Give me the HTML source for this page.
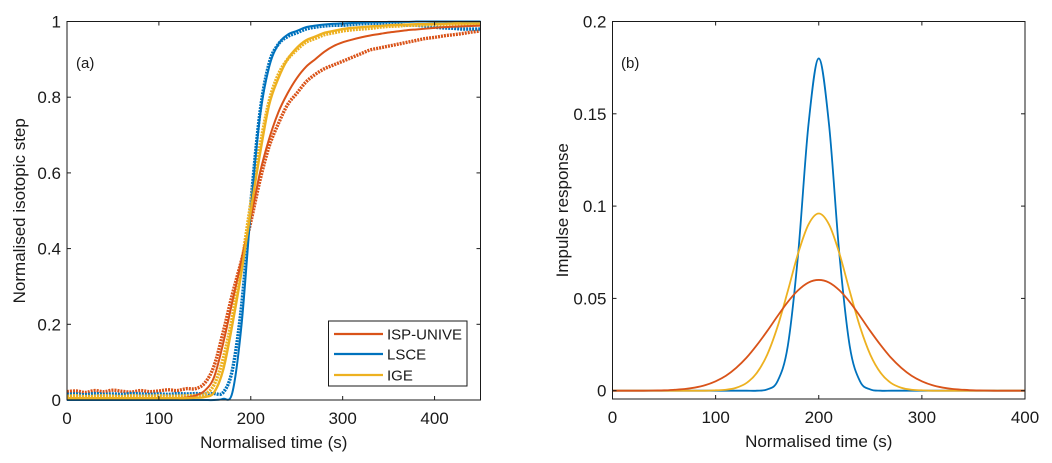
<!DOCTYPE html>
<html><head><meta charset="utf-8"><style>
html,body{margin:0;padding:0;background:#fff;}
svg{display:block;font-family:"Liberation Sans",Arial,sans-serif;}
</style></head><body>
<svg id="fig" width="1052" height="463" viewBox="0 0 1052 463">
<g id="pa"></g>
<g id="pb"></g>
</svg>
<script>
// Panel (a) data: step responses sampled every 10 s from 0 to 450
const aTimes = [0,10,20,30,40,50,60,70,80,90,100,110,120,130,140,150,160,170,180,190,200,210,220,230,240,250,260,270,280,290,300,310,320,330,340,350,360,370,380,390,400,410,420,430,440,450];
const redFit   = [0.002,0.002,0.002,0.002,0.002,0.002,0.002,0.002,0.002,0.003,0.003,0.004,0.005,0.007,0.012,0.025,0.06,0.15,0.26,0.37,0.48,0.6,0.69,0.76,0.81,0.85,0.88,0.9,0.92,0.935,0.945,0.952,0.958,0.963,0.967,0.971,0.974,0.977,0.979,0.981,0.983,0.985,0.986,0.987,0.988,0.989];
const redData  = [0.022,0.024,0.02,0.025,0.022,0.026,0.023,0.021,0.025,0.022,0.024,0.027,0.025,0.03,0.03,0.045,0.09,0.18,0.28,0.37,0.47,0.58,0.67,0.73,0.78,0.81,0.84,0.86,0.875,0.885,0.895,0.905,0.915,0.925,0.93,0.935,0.94,0.945,0.95,0.955,0.958,0.962,0.965,0.968,0.972,0.975];
const blueFit  = [0,0,0,0,0,0,0,0,0,0,0,0,0,0,0,0,0,0.003,0.02,0.2,0.5,0.75,0.88,0.94,0.965,0.975,0.985,0.989,0.992,0.994,0.995,0.996,0.997,0.998,0.998,0.999,0.999,0.999,1,1,1,1,1,1,1,1];
const blueData = [0.015,0.016,0.014,0.017,0.015,0.016,0.015,0.017,0.016,0.015,0.016,0.015,0.017,0.016,0.017,0.016,0.017,0.02,0.08,0.25,0.52,0.76,0.89,0.94,0.96,0.97,0.98,0.985,0.988,0.99,0.99,0.992,0.994,0.995,0.995,0.995,0.993,0.99,0.99,0.988,0.985,0.983,0.982,0.98,0.98,0.98];
const yelFit   = [0.005,0.005,0.005,0.005,0.005,0.005,0.005,0.005,0.005,0.005,0.005,0.005,0.005,0.005,0.006,0.008,0.02,0.08,0.2,0.34,0.5,0.65,0.78,0.85,0.9,0.93,0.95,0.96,0.97,0.975,0.98,0.983,0.985,0.987,0.988,0.99,0.991,0.992,0.993,0.993,0.994,0.994,0.995,0.995,0.995,0.995];
const yelData  = [0.01,0.011,0.009,0.01,0.011,0.01,0.009,0.011,0.01,0.01,0.011,0.01,0.01,0.011,0.012,0.015,0.04,0.11,0.22,0.36,0.52,0.67,0.79,0.86,0.9,0.925,0.945,0.955,0.965,0.97,0.975,0.978,0.98,0.982,0.985,0.987,0.988,0.99,0.99,0.991,0.992,0.992,0.993,0.993,0.994,0.994];
const aXTicks = [0,100,200,300,400];
const aYTicks = [0,0.2,0.4,0.6,0.8,1];
const aYTickLabels = ["0","0.2","0.4","0.6","0.8","1"];
// Panel (b) data: impulse responses sampled every 10 s from 0 to 400
const bTimes = [0,10,20,30,40,50,60,70,80,90,100,110,120,130,140,150,160,170,180,190,200,210,220,230,240,250,260,270,280,290,300,310,320,330,340,350,360,370,380,390,400];
const redImp  = [0,0,0,0,0.0001,0.0002,0.0005,0.0009,0.0017,0.003,0.0051,0.0081,0.0124,0.0179,0.0247,0.0323,0.0404,0.0481,0.0544,0.0586,0.06,0.0586,0.0544,0.0481,0.0404,0.0323,0.0247,0.0179,0.0124,0.0081,0.0051,0.003,0.0017,0.0009,0.0005,0.0002,0.0001,0,0,0,0];
const yelImp  = [0,0,0,0,0,0,0,0,0,0,0.0002,0.0005,0.0016,0.0042,0.0097,0.0195,0.0346,0.054,0.0744,0.09,0.096,0.09,0.0744,0.054,0.0346,0.0195,0.0097,0.0042,0.0016,0.0005,0.0002,0,0,0,0,0,0,0,0,0,0];
const blueImp = [0,0,0,0,0,0,0,0,0,0,0,0,0,0,0,0.0007,0.0051,0.0243,0.074,0.144,0.18,0.144,0.074,0.0243,0.0051,0.0007,0,0,0,0,0,0,0,0,0,0,0,0,0,0,0];
const bXTicks = [0,100,200,300,400];
const bYTicks = [0,0.05,0.1,0.15,0.2];
const bYTickLabels = ["0","0.05","0.1","0.15","0.2"];

const NS="http://www.w3.org/2000/svg";
const RED="#d95319", BLUE="#0072bd", YEL="#edb120", INK="#1a1a1a";
function mk(parent,tag,attrs){const e=document.createElementNS(NS,tag);for(const k in attrs)e.setAttribute(k,attrs[k]);parent.appendChild(e);return e;}
function smooth(pts){let d="M"+pts[0][0].toFixed(2)+","+pts[0][1].toFixed(2);
 for(let i=0;i<pts.length-1;i++){const p0=pts[Math.max(0,i-1)],p1=pts[i],p2=pts[i+1],p3=pts[Math.min(pts.length-1,i+2)];
  const c1=[p1[0]+(p2[0]-p0[0])/6,p1[1]+(p2[1]-p0[1])/6],c2=[p2[0]-(p3[0]-p1[0])/6,p2[1]-(p3[1]-p1[1])/6];
  d+=" C"+c1.map(v=>v.toFixed(2))+" "+c2.map(v=>v.toFixed(2))+" "+p2[0].toFixed(2)+","+p2[1].toFixed(2);}
 return d;}
function axes(g,L,T,R,B,sx,sy,xt,yt,ytl,xlab,ylab,ylabX){
 mk(g,"rect",{x:L,y:T,width:R-L,height:B-T,fill:"none",stroke:INK,"stroke-width":1});
 xt.forEach(v=>{const x=sx(v);mk(g,"line",{x1:x,x2:x,y1:B,y2:B-4,stroke:INK});mk(g,"line",{x1:x,x2:x,y1:T,y2:T+4,stroke:INK});
  const t=mk(g,"text",{x:x,y:B+24,"text-anchor":"middle","font-size":17,fill:INK});t.textContent=v;});
 yt.forEach((v,i)=>{const y=sy(v);mk(g,"line",{x1:L,x2:L+4,y1:y,y2:y,stroke:INK});mk(g,"line",{x1:R,x2:R-4,y1:y,y2:y,stroke:INK});
  const t=mk(g,"text",{x:L-6,y:y+6,"text-anchor":"end","font-size":17,fill:INK});t.textContent=ytl[i];});
 const xl=mk(g,"text",{x:(L+R)/2,y:B+48,"text-anchor":"middle","font-size":17,fill:INK});xl.textContent=xlab;
 
 const cy=(T+B)/2;const yl=mk(g,"text",{x:ylabX,y:cy,"text-anchor":"middle","font-size":17,fill:INK,transform:`rotate(-90 ${ylabX} ${cy})`});yl.textContent=ylab;
 
}
function series(g,xs,ys,sx,sy,color,w,dash,name){const p=mk(g,"path",{d:smooth(xs.map((x,i)=>[sx(x),sy(ys[i])])),fill:"none",stroke:color,"stroke-width":w,"stroke-linejoin":"round"});
 if(dash)p.setAttribute("stroke-dasharray",dash);
 }

// Panel a
const ga=document.getElementById("pa");
const aL=67,aR=480.5,aT=21.5,aB=400;
const sxa=v=>aL+(v-0)/450*(aR-aL), sya=v=>aB-v*(aB-aT);
series(ga,aTimes,redData,sxa,sya,RED,3.4,"2 1","isp-unive-data");
series(ga,aTimes,blueData,sxa,sya,BLUE,3.4,"2 1","lsce-data");
series(ga,aTimes,yelData,sxa,sya,YEL,3.4,"2 1","ige-data");
series(ga,aTimes,redFit,sxa,sya,RED,2,null,"isp-unive-fit");
series(ga,aTimes,blueFit,sxa,sya,BLUE,2,null,"lsce-fit");
series(ga,aTimes,yelFit,sxa,sya,YEL,2.4,null,"ige-fit");
mk(ga,"rect",{x:aR+0.5,y:0,width:30,height:463,fill:"#fff"});
axes(ga,aL,aT,aR,aB,sxa,sya,aXTicks,aYTicks,aYTickLabels,"Normalised time (s)","Normalised isotopic step",25);
const ta=mk(ga,"text",{x:76,y:68,"font-size":15,fill:INK});ta.textContent="(a)";

const lg=mk(ga,"g",{});
mk(lg,"rect",{x:328.5,y:321,width:138.5,height:65,fill:"#fff",stroke:INK});
[["ISP-UNIVE",RED,334],["LSCE",BLUE,354],["IGE",YEL,375]].forEach(([n,c,y])=>{
 const e=mk(lg,"g",{});
 mk(e,"line",{x1:334,x2:383,y1:y,y2:y,stroke:c,"stroke-width":2.2});
 const t=mk(e,"text",{x:387,y:y+5.5,"font-size":15,fill:INK});t.textContent=n;});

// Panel b
const gb=document.getElementById("pb");
const bL=612.5,bR=1025,bT=21.5,bB=399;
const sxb=v=>bL+v/400*(bR-bL), syb=v=>390.7-v/0.2*(390.7-21.5);
series(gb,bTimes,blueImp,sxb,syb,BLUE,1.8,null,"lsce-impulse");
series(gb,bTimes,yelImp,sxb,syb,YEL,1.8,null,"ige-impulse");
series(gb,bTimes,redImp,sxb,syb,RED,1.8,null,"isp-unive-impulse");
axes(gb,bL,bT,bR,bB,sxb,syb,bXTicks,bYTicks,bYTickLabels,"Normalised time (s)","Impulse response",568);
const tb=mk(gb,"text",{x:621,y:68,"font-size":15,fill:INK});tb.textContent="(b)";

</script>
</body></html>
